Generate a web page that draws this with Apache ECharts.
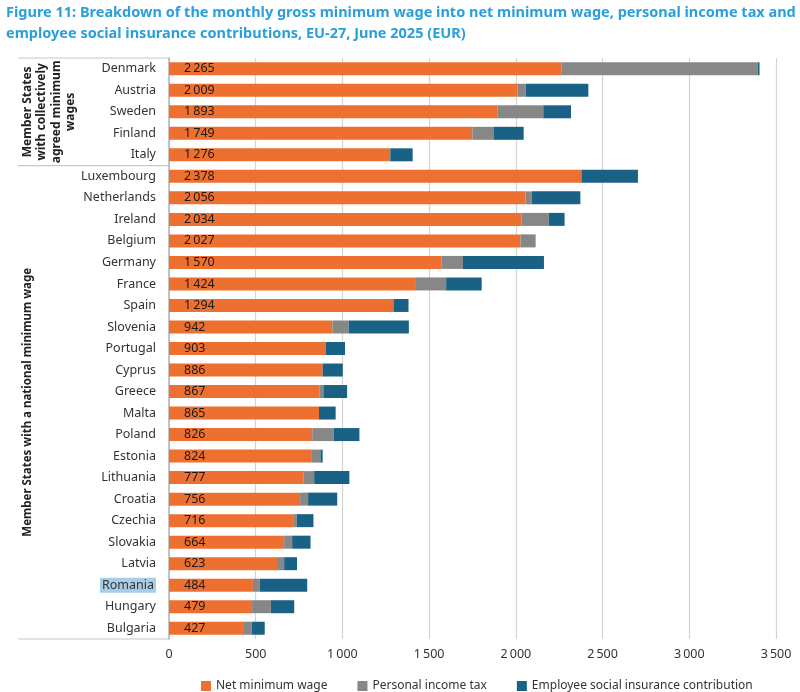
<!DOCTYPE html>
<html>
<head>
<meta charset="utf-8">
<script src="https://cdn.jsdelivr.net/npm/echarts@6/dist/echarts.min.js"></script>
<style>
  html, body { margin: 0; padding: 0; background: #fff; }
  #chart { width: 800px; height: 692px; }
</style>
</head>
<body>
<div id="chart"></div>
<script>
const countries = ['Denmark', 'Austria', 'Sweden', 'Finland', 'Italy',
  'Luxembourg', 'Netherlands', 'Ireland', 'Belgium', 'Germany', 'France', 'Spain',
  'Slovenia', 'Portugal', 'Cyprus', 'Greece', 'Malta', 'Poland', 'Estonia',
  'Lithuania', 'Croatia', 'Czechia', 'Slovakia', 'Latvia', 'Romania', 'Hungary', 'Bulgaria'];
const netWage = [2265, 2009, 1893, 1749, 1276,
  2378, 2056, 2034, 2027, 1570, 1424, 1294,
  942, 903, 886, 867, 865, 826, 824,
  777, 756, 716, 664, 623, 484, 479, 427];
const incomeTax = [1130, 48, 265, 122, 0,
  0, 36, 156, 87, 125, 174, 0,
  94, 0, 0, 23, 0, 123, 49,
  60, 46, 21, 46, 41, 39, 108, 50];
const socialContrib = [10, 361, 160, 174, 129,
  326, 280, 91, 0, 467, 205, 87,
  347, 112, 116, 137, 96, 149, 13,
  203, 168, 96, 106, 74, 274, 135, 75];
const groupSplit = 5; // first 5 rows: collectively agreed minimum wages
const highlighted = 'Romania';

const fmt = v => String(v).replace(/\B(?=(\d{3})+(?!\d))/g, '\u2009');
const font = 'Noto Sans';

const chart = echarts.init(document.getElementById('chart'));
chart.setOption({
  animation: false,
  textStyle: { fontFamily: font },
  title: {
    text: 'Figure 11: Breakdown of the monthly gross minimum wage into net minimum wage, personal income tax and\nemployee social insurance contributions, EU-27, June 2025 (EUR)',
    left: 6,
    top: 2,
    padding: 0,
    textStyle: { color: '#2A9FD8', fontSize: 14.5, fontWeight: 'bold', lineHeight: 21, fontFamily: font }
  },
  legend: {
    left: 196,
    top: 675,
    itemWidth: 10,
    itemHeight: 10,
    itemGap: 30,
    icon: 'rect',
    textStyle: { fontSize: 12, color: '#333' },
    data: ['Net minimum wage', 'Personal income tax', 'Employee social insurance contribution']
  },
  grid: { left: 169, right: 24, top: 58, bottom: 53 },
  xAxis: {
    type: 'value',
    min: 0,
    max: 3500,
    interval: 500,
    axisLine: { show: false },
    axisTick: { show: false },
    axisLabel: { formatter: fmt, color: '#333', fontSize: 12.5, margin: 9 },
    splitLine: { lineStyle: { color: '#d4d4d4', width: 1.2 } }
  },
  yAxis: {
    type: 'category',
    inverse: true,
    data: countries,
    axisLine: { lineStyle: { color: '#b5b5b5', width: 1.5 } },
    axisTick: { show: false },
    axisLabel: {
      color: '#333',
      fontSize: 12.5,
      margin: 13,
      formatter: v => v === highlighted ? '{hl|' + v + '}' : v,
      rich: { hl: { backgroundColor: '#A8CDE6', padding: [1, 2], fontSize: 12.5, color: '#333' } }
    }
  },
  series: [
    {
      name: 'Net minimum wage', type: 'bar', stack: 'gross', barWidth: 13,
      itemStyle: { color: '#ED7031' },
      label: { show: true, position: 'insideLeft', distance: 10, offset: [5, 0], color: '#1a1a1a', fontSize: 12.5, formatter: p => fmt(p.value) },
      data: netWage
    },
    {
      name: 'Personal income tax', type: 'bar', stack: 'gross', barWidth: 13,
      itemStyle: { color: '#878787' },
      data: incomeTax
    },
    {
      name: 'Employee social insurance contribution', type: 'bar', stack: 'gross', barWidth: 13,
      itemStyle: { color: '#1A6285' },
      data: socialContrib
    }
  ]
});

// group panel on the left, placed from the category axis
const yc = i => chart.convertToPixel({ yAxisIndex: 0 }, countries[i]);
const band = yc(1) - yc(0);
const yTop = yc(0) - band / 2;
const ySplit = (yc(groupSplit - 1) + yc(groupSplit)) / 2;
const yBottom = yc(countries.length - 1) + band / 2;
const x0 = 18;
const x1 = chart.convertToPixel({ xAxisIndex: 0 }, 0);
const line = y => ({ type: 'line', shape: { x1: x0, y1: y, x2: x1, y2: y }, style: { stroke: '#c8c8c8', lineWidth: 1.2 } });
const groupText = (text, x, y, size) => ({
  type: 'text', x: x, y: y, rotation: Math.PI / 2,
  style: { text: text, align: 'center', verticalAlign: 'middle', fill: '#222', font: 'bold ' + size + 'px "' + font + '"', lineHeight: 14.5 }
});
chart.setOption({
  graphic: [
    line(yTop), line(ySplit), line(yBottom),
    groupText('Member States\nwith collectively\nagreed minimum\nwages', 49, (yTop + ySplit) / 2, 12),
    groupText('Member States with a national minimum wage', 28, (ySplit + yBottom) / 2, 11.5)
  ]
});
</script>
</body>
</html>
